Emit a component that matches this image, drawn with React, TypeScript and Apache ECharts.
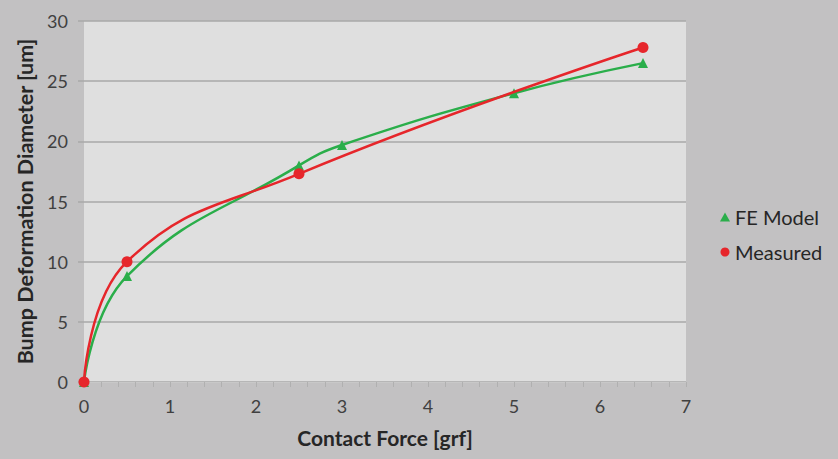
import React, { useEffect, useRef } from "react";
import * as echarts from "echarts";

const feForce = [0, 0.5, 2.5, 3, 5, 6.5];
const feDiameter = [0, 8.8, 18.0, 19.7, 24.0, 26.5];
const measForce = [0, 0.5, 2.5, 6.5];
const measDiameter = [0, 10.0, 17.3, 27.8];
const seriesNames = ["FE Model", "Measured"];
const xAxisTitle = "Contact Force [grf]";
const yAxisTitle = "Bump Deformation Diameter [um]";

const FONT = "Lato, 'Open Sans', sans-serif";
const GREEN = "#2aae4a";
const RED = "#e6262b";

export default function App() {
  const ref = useRef<HTMLDivElement>(null);
  useEffect(() => {
    if (!ref.current) return;
    const chart = echarts.init(ref.current, null, { renderer: "svg" });
    const fe = feForce.map((x, i) => [x, feDiameter[i]]);
    const meas = measForce.map((x, i) => [x, measDiameter[i]]);
    chart.setOption({
      animation: false,
      backgroundColor: "#c2c1c2",
      textStyle: { fontFamily: FONT },
      grid: {
        left: 84,
        right: 152,
        top: 21,
        bottom: 77,
        show: true,
        backgroundColor: "#dfdfdf",
        borderWidth: 0,
      },
      legend: {
        orient: "vertical",
        left: 715,
        top: 202,
        itemGap: 15,
        itemWidth: 10,
        itemHeight: 9,
        textStyle: { fontSize: 20, color: "#262626", fontFamily: FONT },
        data: [
          { name: seriesNames[0], icon: "triangle" },
          { name: seriesNames[1], icon: "circle" },
        ],
      },
      xAxis: {
        type: "value",
        min: 0,
        max: 7,
        interval: 1,
        name: xAxisTitle,
        nameLocation: "middle",
        nameGap: 45,
        nameTextStyle: { fontSize: 21, fontWeight: "bold", color: "#262626", fontFamily: FONT },
        axisLine: { show: true, lineStyle: { color: "#c8c8c8", width: 1 } },
        axisTick: { show: true, length: 5, lineStyle: { color: "#b0b0b0" } },
        minorTick: { show: true, splitNumber: 5, length: 5, lineStyle: { color: "#b0b0b0" } },
        axisLabel: { fontSize: 18, color: "#404040", margin: 15, fontFamily: FONT },
        splitLine: { show: false },
      },
      yAxis: {
        type: "value",
        min: 0,
        max: 30,
        interval: 5,
        name: yAxisTitle,
        nameLocation: "middle",
        nameGap: 39,
        nameTextStyle: { fontSize: 21.5, fontWeight: "bold", color: "#262626", fontFamily: FONT },
        axisLine: { show: false },
        axisTick: { show: true, length: 6, lineStyle: { color: "#a8a8a8", width: 1.5 } },
        axisLabel: { fontSize: 18, color: "#404040", margin: 16, fontFamily: FONT },
        splitLine: { show: true, lineStyle: { color: "#a8a8a8", width: 1.5 } },
      },
      series: [
        {
          name: seriesNames[0],
          type: "line",
          data: fe,
          smooth: 0.45,
          symbol: "triangle",
          symbolSize: 10,
          itemStyle: { color: GREEN },
          lineStyle: { color: GREEN, width: 2.5 },
          z: 2,
        },
        {
          name: seriesNames[1],
          type: "line",
          data: meas,
          smooth: 0.45,
          symbol: "circle",
          symbolSize: 11,
          itemStyle: { color: RED },
          lineStyle: { color: RED, width: 2.5 },
          z: 3,
        },
      ],
    });
    return () => chart.dispose();
  }, []);
  return (
    <div
      ref={ref}
      style={{ position: "absolute", left: 0, top: 0, width: 838, height: 459 }}
    />
  );
}
